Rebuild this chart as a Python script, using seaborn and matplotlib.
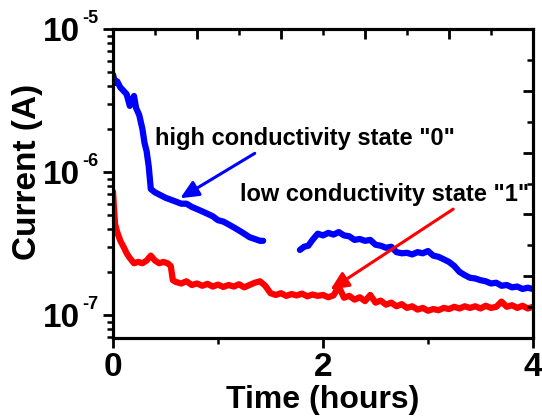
import numpy as np
import pandas as pd
import seaborn as sns
import matplotlib.pyplot as plt
from matplotlib.ticker import FixedLocator, NullFormatter
from matplotlib.transforms import blended_transform_factory

# time in hours, current in units of 1e-7 A
blue1_t = [0, 0.02, 0.04, 0.07, 0.10, 0.13, 0.16, 0.18, 0.20, 0.22, 0.25, 0.28,
           0.30, 0.32, 0.34, 0.36, 0.40, 0.45, 0.50, 0.55, 0.60, 0.65, 0.70,
           0.75, 0.80, 0.85, 0.90, 0.95, 1.00, 1.05, 1.10, 1.15, 1.20, 1.25,
           1.30, 1.35, 1.40, 1.43]
blue1_i = [48, 42, 43, 39, 37, 35, 29, 31, 34, 28, 25, 20,
           16, 14, 11, 7.6, 7.2, 6.9, 6.6, 6.4, 6.2, 6.0, 6.0,
           5.7, 5.5, 5.3, 5.1, 4.9, 4.6, 4.5, 4.3, 4.1, 3.9, 3.7,
           3.5, 3.4, 3.3, 3.3]

blue2_t = [1.78, 1.82, 1.86, 1.90, 1.95, 2.00, 2.05, 2.10, 2.15, 2.20, 2.25,
           2.30, 2.35, 2.40, 2.45, 2.50, 2.55, 2.60, 2.65, 2.70, 2.75, 2.80,
           2.85, 2.90, 2.95, 3.00, 3.05, 3.10, 3.15, 3.20, 3.25, 3.30, 3.35,
           3.40, 3.45, 3.50, 3.55, 3.60, 3.65, 3.70, 3.75, 3.80, 3.85, 3.90,
           3.95, 4.00]
blue2_i = [2.85, 3.0, 3.05, 3.35, 3.7, 3.6, 3.75, 3.65, 3.8, 3.6, 3.55,
           3.35, 3.4, 3.3, 3.35, 3.1, 3.05, 2.95, 3.0, 2.75, 2.7, 2.72,
           2.65, 2.75, 2.7, 2.8, 2.6, 2.55, 2.45, 2.35, 2.2, 2.0, 1.9,
           1.82, 1.8, 1.75, 1.72, 1.66, 1.68, 1.6, 1.62, 1.56, 1.58, 1.52,
           1.55, 1.52]

red_t = [0, 0.01, 0.02, 0.04, 0.07, 0.10, 0.13, 0.16, 0.20, 0.24, 0.28, 0.32,
         0.36, 0.40, 0.44, 0.48, 0.52, 0.55, 0.57,
         0.60, 0.65, 0.70, 0.75, 0.80, 0.85, 0.90, 0.95, 1.00, 1.05, 1.10,
         1.15, 1.20, 1.25, 1.30, 1.35, 1.40, 1.45, 1.50, 1.55, 1.60, 1.65,
         1.70, 1.75, 1.80, 1.85, 1.90, 1.95, 2.00, 2.05, 2.10, 2.15, 2.20,
         2.25, 2.30, 2.35, 2.40, 2.45, 2.50, 2.55, 2.60, 2.65, 2.70, 2.75,
         2.80, 2.85, 2.90, 2.95, 3.00, 3.05, 3.10, 3.15, 3.20, 3.25, 3.30,
         3.35, 3.40, 3.45, 3.50, 3.55, 3.60, 3.65, 3.70, 3.75, 3.80, 3.85,
         3.90, 3.95, 4.00]
red_i = [7.3, 5.5, 4.3, 3.8, 3.3, 3.0, 2.7, 2.5, 2.3, 2.35, 2.3, 2.4,
         2.6, 2.4, 2.3, 2.35, 2.3, 2.2, 1.75,
         1.70, 1.66, 1.72, 1.62, 1.66, 1.60, 1.65, 1.58, 1.63, 1.57, 1.62,
         1.58, 1.64, 1.56, 1.62, 1.68, 1.72, 1.60, 1.42, 1.38, 1.42, 1.36,
         1.40, 1.37, 1.41, 1.35, 1.39, 1.36, 1.38, 1.33, 1.37, 1.58, 1.32,
         1.36, 1.28, 1.33, 1.25, 1.38, 1.22, 1.26, 1.18, 1.22, 1.15, 1.19,
         1.12, 1.15, 1.09, 1.12, 1.07, 1.10, 1.08, 1.12, 1.10, 1.14, 1.11,
         1.15, 1.12, 1.15, 1.11, 1.16, 1.12, 1.14, 1.24, 1.14, 1.17, 1.12,
         1.16, 1.11, 1.14]

unit = 1e-7
y_major = [1e-7, 1e-6, 1e-5]
y_exps = ["-7", "-6", "-5"]
x_major = [0, 2, 4]

sns.set_style("white")
plt.rcParams['font.family'] = ['Liberation Sans', 'DejaVu Sans']
plt.rcParams['font.weight'] = 'bold'
for k in ['text.color', 'axes.labelcolor', 'xtick.color', 'ytick.color',
          'axes.edgecolor']:
    plt.rcParams[k] = 'black'

fig = plt.figure(figsize=(5.42, 4.18), dpi=100)
ax = fig.add_axes([113/542, 1-338/418, 420/542, 309/418])

df_b1 = pd.DataFrame({"t": blue1_t, "i": np.array(blue1_i) * unit})
df_b2 = pd.DataFrame({"t": blue2_t, "i": np.array(blue2_i) * unit})
df_r = pd.DataFrame({"t": red_t, "i": np.array(red_i) * unit})

for d in [df_b1, df_b2]:
    sns.lineplot(data=d, x="t", y="i", color="#0000ff", lw=4.5, ax=ax,
                 solid_joinstyle="round", solid_capstyle="round")
sns.lineplot(data=df_r, x="t", y="i", color="#ff0000", lw=4.5, ax=ax,
             solid_joinstyle="round", solid_capstyle="round")

ax.set_yscale("log")
ax.set_xlim(0, 4)
ax.set_ylim(6.9e-8, 1e-5)

ax.xaxis.set_major_locator(FixedLocator(x_major))
ax.xaxis.set_minor_locator(FixedLocator([1, 3]))
ax.set_xticklabels([str(v) for v in x_major])
ax.yaxis.set_major_locator(FixedLocator(y_major))
ax.yaxis.set_minor_locator(FixedLocator(
    [k * 1e-8 for k in range(7, 10)] + [k * 1e-7 for k in range(2, 10)]
    + [k * 1e-6 for k in range(2, 10)]))
ax.yaxis.set_minor_formatter(NullFormatter())
ax.set_yticklabels(["10"] * 3)

ax.tick_params(which="major", direction="out", length=7, width=2,
               labelsize=24)
ax.tick_params(which="minor", direction="out", length=4, width=1.8)
ax.tick_params(axis="y", which="major", pad=17)
ax.tick_params(axis="x", which="major", pad=3)

# exponents for the 10^n labels
tr = blended_transform_factory(ax.transAxes, ax.transData)
for v, e in zip(y_major, y_exps):
    ax.annotate(e, xy=(0, v), xycoords=tr, xytext=(-22, 4.5),
                textcoords="offset points", ha="left", va="baseline",
                fontsize=13, fontweight="bold", annotation_clip=False)

for s in ax.spines.values():
    s.set_linewidth(2.2)

# mirrored ticks on top and right (inward, linear 0-1)
axt = ax.twiny()
axt.set_xlim(0, 1)
axt.xaxis.set_major_locator(FixedLocator([0.2, 0.4, 0.6, 0.8]))
axt.xaxis.set_minor_locator(FixedLocator([0.1, 0.3, 0.5, 0.7, 0.9]))
axt.tick_params(which="major", direction="in", length=7, width=2, labeltop=False)
axt.tick_params(which="minor", direction="in", length=4, width=1.8)
axr = ax.twinx()
axr.set_ylim(0, 1)
axr.yaxis.set_major_locator(FixedLocator([0.2, 0.4, 0.6, 0.8]))
axr.yaxis.set_minor_locator(FixedLocator([0.1, 0.3, 0.5, 0.7, 0.9]))
axr.tick_params(which="major", direction="in", length=7, width=2, labelright=False)
axr.tick_params(which="minor", direction="in", length=4, width=1.8)
for a in [axt, axr]:
    for s in a.spines.values():
        s.set_linewidth(2.2)

ax.set_xlabel("Time (hours)", fontsize=23, fontweight="bold")
ax.set_ylabel("Current (A)", fontsize=24, fontweight="bold")
ax.xaxis.set_label_coords(0.5, -0.152)
ax.yaxis.set_label_coords(-0.167, 0.537)

arrow = "-|>,head_length=0.55,head_width=0.25"
ax.text(0.4, 1.545e-6, 'high conductivity state "0"', fontsize=17,
        fontweight="bold", ha="left", va="baseline")
ax.annotate("", xy=(0.64, 6.55e-7), xytext=(1.35, 1.35e-6),
            arrowprops=dict(arrowstyle=arrow, color="#0000ff", lw=2.2,
                            mutation_scale=20, shrinkA=0, shrinkB=0))
ax.text(1.21, 6.27e-7, 'low conductivity state "1"', fontsize=17,
        fontweight="bold", ha="left", va="baseline")
ax.annotate("", xy=(2.07, 1.5e-7), xytext=(3.24, 5.5e-7),
            arrowprops=dict(arrowstyle=arrow, color="#ff0000", lw=2.2,
                            mutation_scale=20, shrinkA=0, shrinkB=0))

fig.savefig("out.png", dpi=100)
